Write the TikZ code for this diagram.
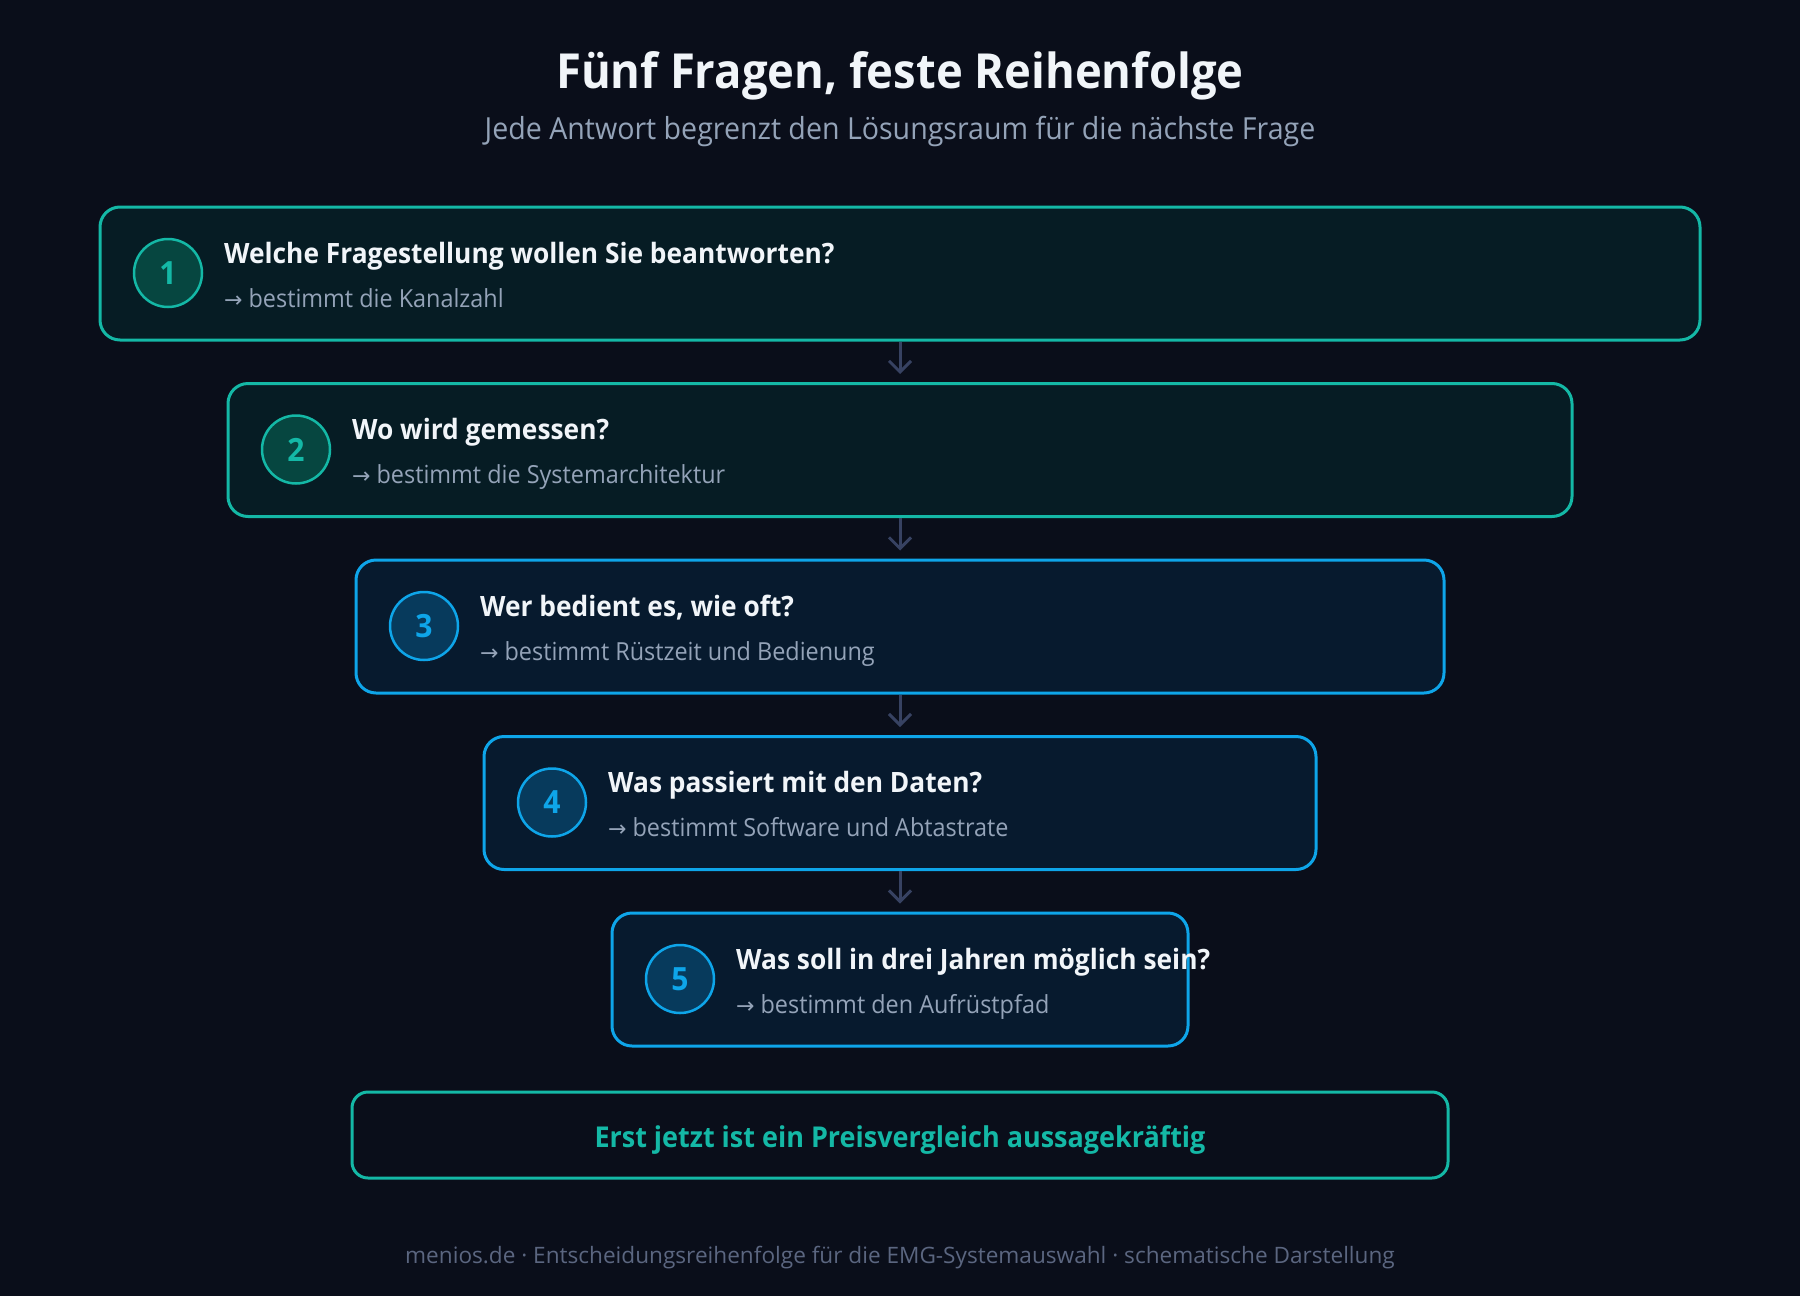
\documentclass[tikz,border=0pt]{standalone}
\usepackage{fontspec}
\setmainfont{Open Sans}
\newfontfamily\hfont[FakeStretch=0.94]{Open Sans}
\newfontfamily\symfont{DejaVu Sans}
\usetikzlibrary{arrows.meta}
\definecolor{bg}{HTML}{0A0E1A}
\definecolor{titlec}{HTML}{F1F5F9}
\definecolor{subc}{HTML}{94A3B8}
\definecolor{teal}{HTML}{14B8A6}
\definecolor{tealfill}{HTML}{061C24}
\definecolor{tealcirc}{HTML}{064640}
\definecolor{blue}{HTML}{0EA5E9}
\definecolor{bluefill}{HTML}{071A2E}
\definecolor{bluecirc}{HTML}{073A5C}
\definecolor{arrowc}{HTML}{374262}
\definecolor{footc}{HTML}{5B6680}
\tikzset{
  qbox/.style={draw=#1, line width=3pt, rounded corners=20pt, inner sep=0pt, minimum height=133pt},
  numcirc/.style={circle, draw=#1, line width=2.5pt, minimum size=68pt, inner sep=0pt, text=#1,
    font=\hfont\fontsize{32}{32}\selectfont\bfseries},
  qtext/.style={anchor=base west, inner sep=0pt, text=titlec, font=\hfont\fontsize{28}{30}\selectfont\bfseries},
  atext/.style={anchor=base west, inner sep=0pt, text=subc, font=\hfont\fontsize{24.9}{28}\selectfont},
  flowarrow/.style={draw=arrowc, line width=3pt, -{Straight Barb[length=11pt,width=22pt]}, shorten >=8pt}
}
\begin{document}
\begin{tikzpicture}[x=1pt,y=-1pt]
\fill[bg] (0,0) rectangle (1800,1296);
\useasboundingbox (0,0) rectangle (1800,1296);
\node[anchor=base, inner sep=0pt, text=titlec, font=\hfont\fontsize{48.3}{55}\selectfont\bfseries] (title) at (900,88) {Fünf Fragen, feste Reihenfolge};
\node[anchor=base, inner sep=0pt, text=subc, font=\hfont\fontsize{30.4}{34}\selectfont] (subtitle) at (900,139) {Jede Antwort begrenzt den Lösungsraum für die nächste Frage};
\foreach \i/\c/\f/\cf/\q/\a in {
 1/teal/tealfill/tealcirc/{Welche Fragestellung wollen Sie beantworten?}/{bestimmt die Kanalzahl},
 2/teal/tealfill/tealcirc/{Wo wird gemessen?}/{bestimmt die Systemarchitektur},
 3/blue/bluefill/bluecirc/{Wer bedient es, wie oft?}/{bestimmt Rüstzeit und Bedienung},
 4/blue/bluefill/bluecirc/{Was passiert mit den Daten?}/{bestimmt Software und Abtastrate},
 5/blue/bluefill/bluecirc/{Was soll in drei Jahren möglich sein?}/{bestimmt den Aufrüstpfad}}{
  \pgfmathsetmacro{\lft}{100+128*(\i-1)}
  \pgfmathsetmacro{\wid}{1600-256*(\i-1)}
  \pgfmathsetmacro{\tp}{207+176.5*(\i-1)}
  \node[qbox=\c, fill=\f, minimum width=\wid pt] (b\i) at (900,\tp+66.5) {};
  \node[numcirc=\c, fill=\cf] (c\i) at (\lft+68,\tp+66) {\i};
  \node[qtext] (q\i) at (\lft+124,\tp+56) {\q};
  \node[atext] (a\i) at (\lft+124,\tp+100) {{\symfont\fontsize{22}{26}\selectfont →}\hspace{6pt}\a};
}
\foreach \i [evaluate=\i as \j using int(\i+1)] in {1,2,3,4}{
  \draw[flowarrow] (b\i.south) -- (b\j.north);
}
\node[draw=teal, line width=3pt, rounded corners=16pt, fill=bg, minimum width=1096pt, minimum height=86pt, inner sep=0pt] (final) at (900,1135) {};
\node[anchor=base, inner sep=0pt, text=teal, font=\hfont\fontsize{28.7}{30}\selectfont\bfseries] (finaltext) at (900,1147) {Erst jetzt ist ein Preisvergleich aussagekräftig};
\node[anchor=base, inner sep=0pt, text=footc, font=\fontsize{22.6}{26}\selectfont] (footer) at (900,1263) {menios.de · Entscheidungsreihenfolge für die EMG-Systemauswahl · schematische Darstellung};
\end{tikzpicture}
\end{document}
